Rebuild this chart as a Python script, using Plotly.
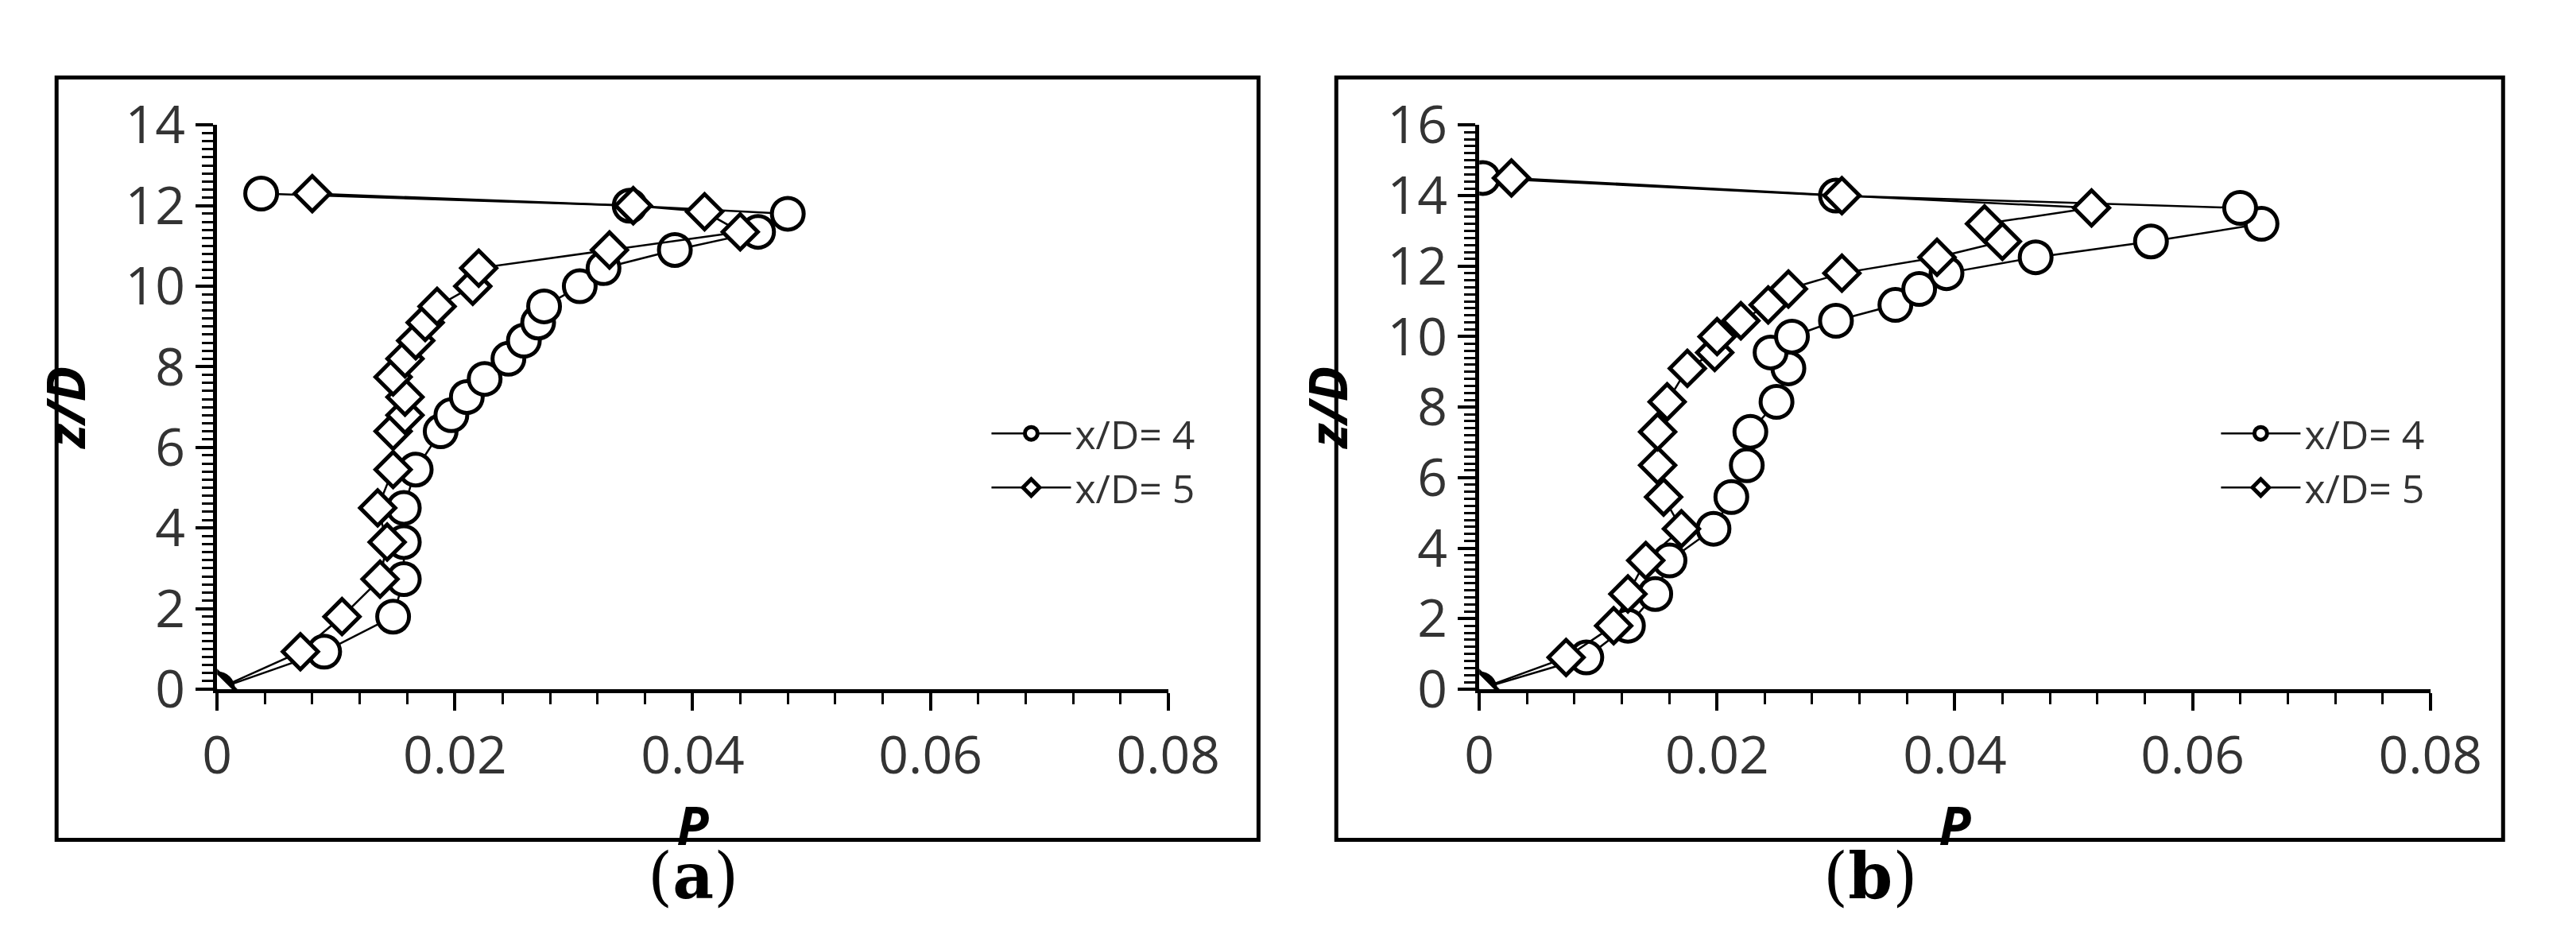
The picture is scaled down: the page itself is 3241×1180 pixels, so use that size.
import plotly.graph_objects as go

# Panel (a)
a_x4_P = [0, 0.009, 0.0148, 0.0157, 0.0157, 0.0157, 0.0167, 0.0188, 0.0197, 0.021, 0.0225,
          0.0245, 0.0258, 0.027, 0.0275, 0.0305, 0.0325, 0.0385, 0.0455, 0.048, 0.0347, 0.0037]
a_x4_z = [0, 0.93, 1.8, 2.73, 3.65, 4.5, 5.45, 6.4, 6.8, 7.25, 7.7,
          8.2, 8.65, 9.1, 9.5, 10.0, 10.45, 10.9, 11.35, 11.8, 12.0, 12.3]
a_x5_P = [0, 0.007, 0.0105, 0.0137, 0.0143, 0.0135, 0.0148, 0.0148, 0.0158, 0.0158, 0.0148,
          0.0158, 0.0167, 0.0175, 0.0185, 0.0215, 0.022, 0.033, 0.044, 0.041, 0.035, 0.008]
a_x5_z = [0, 0.93, 1.8, 2.73, 3.65, 4.5, 5.45, 6.4, 6.8, 7.25, 7.75,
          8.2, 8.65, 9.1, 9.5, 10.0, 10.45, 10.9, 11.35, 11.85, 12.0, 12.3]

# Panel (b)
b_x4_P = [0, 0.009, 0.0125, 0.0148, 0.016, 0.0197, 0.0212, 0.0225, 0.0228, 0.025, 0.026, 0.0245,
          0.0263, 0.03, 0.035, 0.037, 0.0393, 0.0468, 0.0565, 0.0658, 0.064, 0.03, 0.0003]
b_x4_z = [0, 0.9, 1.8, 2.7, 3.65, 4.55, 5.45, 6.35, 7.3, 8.15, 9.1, 9.55,
          10.0, 10.45, 10.9, 11.35, 11.8, 12.25, 12.7, 13.2, 13.65, 14.0, 14.5]
b_x5_P = [0, 0.0073, 0.0113, 0.0125, 0.014, 0.017, 0.0155, 0.015, 0.015, 0.0158, 0.0175, 0.0198,
          0.02, 0.022, 0.0243, 0.026, 0.0305, 0.0385, 0.044, 0.0425, 0.0515, 0.0305, 0.0027]
b_x5_z = [0, 0.9, 1.8, 2.7, 3.65, 4.55, 5.45, 6.35, 7.3, 8.15, 9.1, 9.55,
          10.0, 10.45, 10.9, 11.35, 11.8, 12.25, 12.7, 13.2, 13.65, 14.0, 14.5]

FONT = "Open Sans"
fig = go.Figure()

def add(x, y, name, sym, size, xa, ya, leg):
    fig.add_trace(go.Scatter(
        x=x, y=y, name=name, mode="lines+markers", xaxis=xa, yaxis=ya, legend=leg,
        line=dict(color="black", width=2.5),
        marker=dict(symbol=sym, size=size, color="white", line=dict(color="black", width=5))))

add(a_x4_P, a_x4_z, "x/D= 4", "circle", 40, "x", "y", "legend")
add(a_x5_P, a_x5_z, "x/D= 5", "diamond", 34, "x", "y", "legend")
add(b_x4_P, b_x4_z, "x/D= 4", "circle", 40, "x2", "y2", "legend2")
add(b_x5_P, b_x5_z, "x/D= 5", "diamond", 34, "x2", "y2", "legend2")

tick_font = dict(family=FONT, size=66, color="#333")
title_font = dict(family=FONT, size=66, color="black")

def xaxis(dom, anchor):
    return dict(domain=dom, anchor=anchor, range=[0, 0.08],
                tickvals=[0, 0.02, 0.04, 0.06, 0.08], ticktext=["0", "0.02", "0.04", "0.06", "0.08"],
                showgrid=False, zeroline=False, showline=True, linecolor="black", linewidth=5,
                ticks="outside", ticklen=22, tickwidth=4, tickcolor="black",
                minor=dict(dtick=0.004, ticks="outside", ticklen=14, tickwidth=3, tickcolor="black"),
                tickfont=tick_font, title=dict(text="<b><i>P</i></b>", font=title_font, standoff=10))

def yaxis(dom, anchor, top):
    return dict(domain=dom, anchor=anchor, range=[0, top], dtick=2,
                showgrid=False, zeroline=False, showline=True, linecolor="black", linewidth=5,
                ticks="outside", ticklen=22, tickwidth=4, tickcolor="black",
                minor=dict(dtick=0.2, ticks="outside", ticklen=14, tickwidth=3, tickcolor="black"),
                tickfont=tick_font, title=dict(text="<b><i>z/D</i></b>", font=title_font, standoff=30))

leg = dict(font=dict(family=FONT, size=50, color="#333"), bgcolor="rgba(0,0,0,0)",
           xanchor="left", yanchor="middle", itemwidth=100, tracegroupgap=40)

fig.update_layout(
    width=3241, height=1180, paper_bgcolor="white", plot_bgcolor="white",
    margin=dict(l=0, r=0, t=0, b=0),
    xaxis=xaxis([0.078, 0.457], "y"), yaxis=yaxis([0.256, 0.907], "x", 14),
    xaxis2=xaxis([0.581, 0.960], "y2"), yaxis2=yaxis([0.256, 0.907], "x2", 16),
    legend=dict(leg, x=0.385, y=0.52),
    legend2=dict(leg, x=0.875, y=0.52),
    shapes=[
        dict(type="rect", xref="paper", yref="paper", x0=0.014, x1=0.493, y0=0.082, y1=0.962,
             line=dict(color="black", width=5)),
        dict(type="rect", xref="paper", yref="paper", x0=0.524, x1=0.989, y0=0.082, y1=0.962,
             line=dict(color="black", width=5)),
    ],
    annotations=[
        dict(text="(<b>a</b>)", x=0.249, y=0.04, xref="paper", yref="paper", showarrow=False,
             yanchor="middle", font=dict(family="DejaVu Serif", size=80, color="black")),
        dict(text="(<b>b</b>)", x=0.756, y=0.04, xref="paper", yref="paper", showarrow=False,
             yanchor="middle", font=dict(family="DejaVu Serif", size=80, color="black")),
    ],
)

fig.write_html("out.html")
